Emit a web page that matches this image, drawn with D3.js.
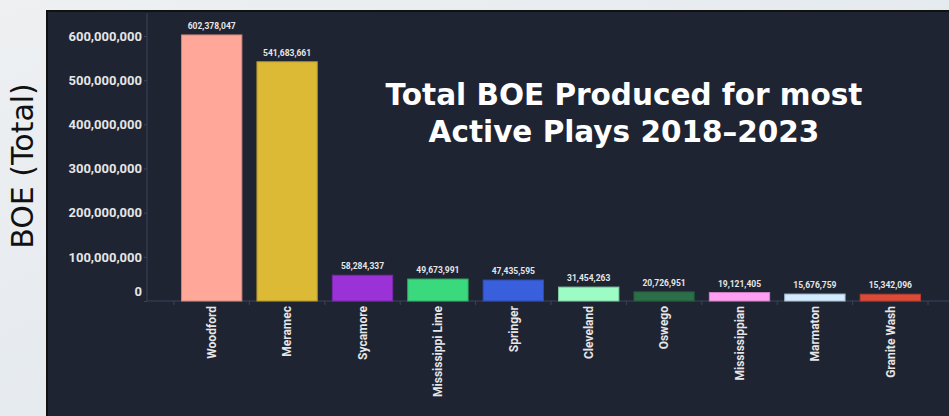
<!DOCTYPE html>
<html><head><meta charset="utf-8">
<script src="https://cdn.jsdelivr.net/npm/d3@7"></script>
<style>
html,body{margin:0;padding:0;background:#e6ebf0;}
svg{display:block;}
</style></head>
<body>
<svg id="chart" width="949" height="416"></svg>
<script>
const categories = ["Woodford","Meramec","Sycamore","Mississippi Lime","Springer","Cleveland","Oswego","Mississippian","Marmaton","Granite Wash"];
const values = [602378047,541683661,58284337,49673991,47435595,31454263,20726951,19121405,15676759,15342096];
const colors = ["#ffa899","#dcba36","#9a32d8","#3bd97e","#3a5fdd","#9dfbc5","#2a6f47","#ff9ff1","#d3ebff","#dd4b38"];
const yTicks = [0,100000000,200000000,300000000,400000000,500000000,600000000];
const titleLines = ["Total BOE Produced for most","Active Plays 2018\u20132023"];
const yTitle = "BOE (Total)";

const svg = d3.select("#chart");
const W = 949, H = 416;

const defs = svg.append("defs");
const g1 = defs.append("linearGradient").attr("id","bg").attr("x1","0").attr("y1","0").attr("x2","1").attr("y2","1");
g1.append("stop").attr("offset","0").attr("stop-color","#eef0f2");
g1.append("stop").attr("offset","1").attr("stop-color","#dde5ec");
svg.append("rect").attr("width",W).attr("height",H).attr("fill","url(#bg)");

// dark panel
svg.append("rect").attr("x",47).attr("y",11).attr("width",W-47+2).attr("height",H-11+2)
  .attr("fill","#1f2433").attr("stroke","#111").attr("stroke-width",2);

const x = d3.scaleBand().domain(categories).range([174,928]).paddingInner(0.2).paddingOuter(0.1);
const y = d3.scaleLinear().domain([0,600000000]).range([301,36]);

// y axis
const yAxis = d3.axisLeft(y).tickValues(yTicks).tickFormat(d3.format(",")).tickSize(3);
const ya = svg.append("g").attr("transform","translate(147,0)").call(yAxis);
ya.select(".domain").attr("stroke","#3b4356").attr("d","M0,13V301");
ya.selectAll(".tick line").attr("stroke","#3b4356");
ya.selectAll(".tick text").attr("fill","#e6e6e6").attr("font-family","Roboto").attr("font-weight","bold")
  .attr("font-size","13px").attr("x",-5);
ya.selectAll(".tick text").filter(d=>d===0).attr("dy","-0.4em");

// x axis
const xAxis = d3.axisBottom(x).tickSize(0);
const xa = svg.append("g").attr("transform","translate(0,301)").call(xAxis);
xa.select(".domain").attr("stroke","#3b4356").attr("d","M147,0H949");
const step = x.step();
const bounds = categories.map(c=>x(c)-x.paddingInner()*step/2).concat([x(categories[categories.length-1])+x.bandwidth()+x.paddingInner()*step/2]);
xa.selectAll(".bnd").data(bounds).enter().append("line").attr("class","bnd")
  .attr("x1",d=>d).attr("x2",d=>d).attr("y1",0).attr("y2",4).attr("stroke","#3b4356");
xa.selectAll(".tick text").attr("fill","#e6e6e6").attr("font-family","Roboto").attr("font-weight","bold")
  .attr("font-size","12px").attr("text-anchor","end")
  .attr("transform","rotate(-90)").attr("x",-5).attr("y",0).attr("dy","0.35em");

// bars
svg.append("g").selectAll("rect").data(categories).enter().append("rect")
  .attr("x",d=>x(d)).attr("width",x.bandwidth())
  .attr("y",(d,i)=>y(values[i])).attr("height",(d,i)=>y(0)-y(values[i]))
  .attr("fill",(d,i)=>colors[i])
  .attr("stroke",(d,i)=>d3.color(colors[i]).darker(0.6)).attr("stroke-width",1);

// value labels
svg.append("g").selectAll("text").data(categories).enter().append("text")
  .attr("x",d=>x(d)+x.bandwidth()/2).attr("y",(d,i)=>y(values[i])-6)
  .attr("text-anchor","middle").attr("fill","#e6e6e6")
  .attr("font-family","Roboto").attr("font-weight","bold").attr("font-size","8.5px")
  .text((d,i)=>d3.format(",")(values[i]));

// title
svg.append("g").selectAll("text").data(titleLines).enter().append("text")
  .attr("x",624).attr("y",(d,i)=>105+i*37).attr("text-anchor","middle")
  .attr("fill","#ffffff").attr("font-family","DejaVu Sans").attr("font-weight","bold")
  .attr("font-size","29.5px").text(d=>d);

// y title
svg.append("text").attr("transform","translate(33,166) rotate(-90)")
  .attr("text-anchor","middle").attr("fill","#111").attr("font-family","DejaVu Sans")
  .attr("font-size","30px").text(yTitle);
</script>
</body></html>
